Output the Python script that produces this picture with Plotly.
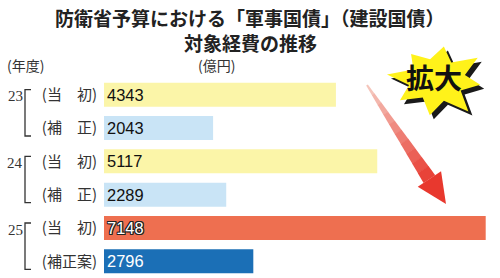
import math
import plotly.graph_objects as go

# ---- data ----
years = ["23", "24", "25"]
row_labels = ["(当　初)", "(補　正)", "(当　初)", "(補　正)", "(当　初)", "(補正案)"]
values = [4343, 2043, 5117, 2289, 7148, 2796]
bar_colors = ["#FBF5A8", "#C9E4F6", "#FBF5A8", "#C9E4F6", "#EE6F50", "#1B6FB6"]
text_colors = ["#111111", "#111111", "#111111", "#111111", "#FFFFFF", "#FFFFFF"]
text_shadows = ["none", "none", "none", "none",
                "-1px -1px 0 #222, 1px -1px 0 #222, -1px 1px 0 #222, 1px 1px 0 #222, 0 1px 0 #222, 0 -1px 0 #222, 1px 0 0 #222, -1px 0 0 #222",
                "none"]

W, H = 500, 278
ML, MR, MT, MB = 104, 10, 78, 0
PW, PH = W - ML - MR, H - MT - MB


def px(x):
    return (x - ML) / PW


def py(y):
    return (H - MB - y) / PH


ypos = list(range(len(values)))

fig = go.Figure()
fig.add_trace(go.Bar(
    x=values, y=ypos, orientation="h",
    marker=dict(color=bar_colors, line=dict(width=0)),
    width=0.72,
    text=[str(v) for v in values],
    textposition="inside", insidetextanchor="start",
    textangle=0,
    textfont=dict(family="Liberation Sans Narrow, Arial Narrow, Liberation Sans",
                  size=21, color=text_colors, shadow=text_shadows),
    hoverinfo="skip",
))

shapes = []
annotations = []

# year labels and brackets
for i, yr in enumerate(years):
    y0 = 2 * i
    annotations.append(dict(x=px(15), y=y0 + 0.05, xref="paper", yref="y", text=yr,
                            showarrow=False, xanchor="center", yanchor="middle",
                            font=dict(family="Liberation Serif", size=15, color="#333")))
    bx, bt = px(25), px(31)
    top, bot = y0 - 0.15, y0 + 1 + 0.24
    shapes.append(dict(type="path", xref="paper", yref="y",
                       path=f"M {bt},{top} L {bx},{top} L {bx},{bot} L {bt},{bot}",
                       line=dict(color="#333", width=1.3)))

# headers
annotations.append(dict(x=px(25), y=py(65), xref="paper", yref="paper", text="(年度)",
                        showarrow=False, xanchor="center", yanchor="middle",
                        font=dict(family="Noto Sans CJK JP", size=14, color="#333")))
annotations.append(dict(x=px(216), y=py(65), xref="paper", yref="paper", text="(億円)",
                        showarrow=False, xanchor="center", yanchor="middle",
                        font=dict(family="Noto Sans CJK JP", size=14, color="#333")))

# title
annotations.append(dict(x=px(250), y=py(17), xref="paper", yref="paper",
                        text="<b>防衛省予算における「軍事国債」（建設国債）</b>",
                        showarrow=False, xanchor="center", yanchor="middle",
                        font=dict(family="Noto Sans CJK JP", size=19, color="#222")))
annotations.append(dict(x=px(250), y=py(42), xref="paper", yref="paper",
                        text="<b>対象経費の推移</b>",
                        showarrow=False, xanchor="center", yanchor="middle",
                        font=dict(family="Noto Sans CJK JP", size=19, color="#222")))

# arrow with gradient (decoration)
tail = (367.0, 85.0)
tip = (446.0, 204.0)
dx, dy = tip[0] - tail[0], tip[1] - tail[1]
L = math.hypot(dx, dy)
ux, uy = dx / L, dy / L
nx, ny = uy, -ux
head_len = 30.0
shaft_len = L - head_len
nseg = 10
c0 = (246, 205, 195)
c1 = (232, 60, 50)
for k in range(nseg):
    t0, t1 = k / nseg, (k + 1) / nseg
    d0, d1 = shaft_len * t0, shaft_len * (t1) + (0.5 if k < nseg - 1 else 0)
    w0, w1 = 1 + 6 * t0, 1 + 6 * t1
    pts = [
        (tail[0] + ux * d0 + nx * w0, tail[1] + uy * d0 + ny * w0),
        (tail[0] + ux * d1 + nx * w1, tail[1] + uy * d1 + ny * w1),
        (tail[0] + ux * d1 - nx * w1, tail[1] + uy * d1 - ny * w1),
        (tail[0] + ux * d0 - nx * w0, tail[1] + uy * d0 - ny * w0),
    ]
    tm = (t0 + t1) / 2
    col = tuple(int(c0[j] + (c1[j] - c0[j]) * tm) for j in range(3))
    path = "M " + " L ".join(f"{px(a)},{py(b)}" for a, b in pts) + " Z"
    shapes.append(dict(type="path", xref="paper", yref="paper", path=path,
                       fillcolor=f"rgb{col}", line=dict(width=0)))
bx_, by_ = tail[0] + ux * shaft_len, tail[1] + uy * shaft_len
hw = 14
head = [(bx_ + nx * hw, by_ + ny * hw), tip, (bx_ - nx * hw, by_ - ny * hw)]
path = "M " + " L ".join(f"{px(a)},{py(b)}" for a, b in head) + " Z"
shapes.append(dict(type="path", xref="paper", yref="paper", path=path,
                   fillcolor="rgb(232,56,46)", line=dict(width=0)))

# starburst (decoration)
cx, cy = 437.0, 80.0
radii = [40, 24, 44, 25, 38, 24, 46, 25, 42, 24, 40, 25, 44, 24, 38, 25]
npts = len(radii)


def star_path(ox, oy):
    pts = []
    for k, r in enumerate(radii):
        ang = -math.pi / 2 + 2 * math.pi * k / npts + 0.15
        sx = 1.15
        pts.append((cx + ox + r * sx * math.cos(ang), cy + oy + r * 0.85 * math.sin(ang)))
    return "M " + " L ".join(f"{px(a)},{py(b)}" for a, b in pts) + " Z"


shapes.append(dict(type="path", xref="paper", yref="paper", path=star_path(4, 4),
                   fillcolor="#1a1a1a", line=dict(width=0)))
shapes.append(dict(type="path", xref="paper", yref="paper", path=star_path(0, 0),
                   fillcolor="#FFF21A", line=dict(width=0)))
annotations.append(dict(x=px(434), y=py(77), xref="paper", yref="paper", text="<b>拡大</b>",
                        showarrow=False, xanchor="center", yanchor="middle",
                        font=dict(family="Noto Sans CJK JP", size=28, color="#111")))

fig.update_layout(
    width=W, height=H,
    margin=dict(l=ML, r=MR, t=MT, b=MB, pad=0),
    paper_bgcolor="white", plot_bgcolor="white",
    showlegend=False,
    bargap=0.28,
    shapes=shapes,
    annotations=annotations,
    xaxis=dict(range=[0, PW / 0.0534], visible=False, fixedrange=True),
    yaxis=dict(range=[5.5, -0.5], tickvals=ypos, ticktext=row_labels,
               showgrid=False, zeroline=False, showline=False, ticks="",
               ticklabelstandoff=6,
               tickfont=dict(family="Noto Sans CJK JP", size=15, color="#333"),
               fixedrange=True),
)

fig.write_html("out.html")
